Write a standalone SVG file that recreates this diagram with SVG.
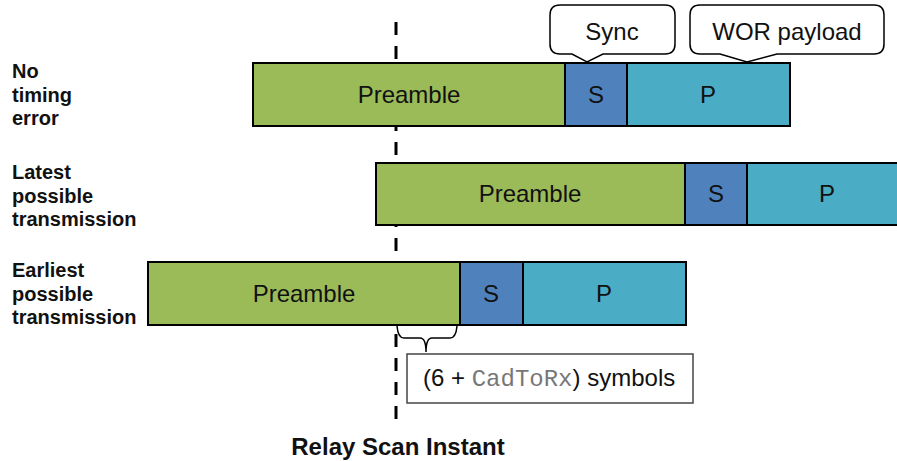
<svg xmlns="http://www.w3.org/2000/svg" width="897" height="461" viewBox="0 0 897 461">
<style>
.bar{stroke:#000;stroke-width:2}
.pre{fill:#9BBB59}
.syn{fill:#4F81BD}
.pay{fill:#4BACC6}
.t{font-family:"Liberation Sans",Arial,sans-serif;font-size:24px;fill:#111;text-anchor:middle}
.lab{font-family:"Liberation Sans",Arial,sans-serif;font-size:20px;font-weight:bold;fill:#111}
.call{fill:#fff;stroke:#000;stroke-width:1.5}
</style>
<rect width="897" height="461" fill="#fff"/>
<g id="connectors">
<line x1="396" y1="22" x2="396" y2="420" stroke="#000" stroke-width="3" stroke-dasharray="13 11"/>
<path d="M397,326 Q398,338 404,338 L420,338 Q426,338 426,352 Q426,338 432,338 L450,338 Q456,338 457,326" fill="none" stroke="#000" stroke-width="1.5"/>
</g>
<g id="labels">
<text class="lab" x="12" y="78">No<tspan x="12" dy="23.5">timing</tspan><tspan x="12" dy="23.5">error</tspan></text>
<text class="lab" x="12" y="179">Latest<tspan x="12" dy="23.5">possible</tspan><tspan x="12" dy="23.5">transmission</tspan></text>
<text class="lab" x="12" y="277">Earliest<tspan x="12" dy="23.5">possible</tspan><tspan x="12" dy="23.5">transmission</tspan></text>
</g>
<g id="row-no-error">
<rect class="bar pre" x="253" y="63" width="312" height="63"/>
<rect class="bar syn" x="565" y="63" width="62" height="63"/>
<rect class="bar pay" x="627" y="63" width="163" height="63"/>
<text class="t" x="409" y="103">Preamble</text>
<text class="t" x="596" y="103">S</text>
<text class="t" x="708" y="103">P</text>
</g>
<g id="row-latest">
<rect class="bar pre" x="376" y="163" width="309" height="62"/>
<rect class="bar syn" x="685" y="163" width="62" height="62"/>
<rect class="bar pay" x="747" y="163" width="160" height="62"/>
<text class="t" x="530" y="202">Preamble</text>
<text class="t" x="716" y="202">S</text>
<text class="t" x="827" y="202">P</text>
</g>
<g id="row-earliest">
<rect class="bar pre" x="148" y="262" width="312" height="63"/>
<rect class="bar syn" x="460" y="262" width="63" height="63"/>
<rect class="bar pay" x="523" y="262" width="163" height="63"/>
<text class="t" x="304" y="302">Preamble</text>
<text class="t" x="491" y="302">S</text>
<text class="t" x="604" y="302">P</text>
</g>
<g id="callout-sync">
<path class="call" d="M560,5 H665 Q675,5 675,15 V44 Q675,54 665,54 H603 L587,62 L572,54 H560 Q550,54 550,44 V15 Q550,5 560,5 Z"/>
<text class="t" x="612" y="40">Sync</text>
</g>
<g id="callout-wor">
<path class="call" d="M700,5 H874 Q884,5 884,15 V44 Q884,54 874,54 H777 L747,62 L720,54 H700 Q690,54 690,44 V15 Q690,5 700,5 Z"/>
<text class="t" x="787" y="40">WOR payload</text>
</g>
<g id="symbols-box">
<rect x="407" y="354" width="286" height="49" fill="#fff" stroke="#444" stroke-width="1.5"/>
<text x="423" y="386" font-family="Liberation Sans,Arial,sans-serif" font-size="24" fill="#111">(6 + <tspan font-family="Liberation Mono,Courier New,monospace" fill="#777">CadToRx</tspan>) symbols</text>
</g>
<g id="relay-label">
<text x="398" y="455" font-family="Liberation Sans,Arial,sans-serif" font-size="24" font-weight="bold" fill="#111" text-anchor="middle">Relay Scan Instant</text>
</g>
</svg>
